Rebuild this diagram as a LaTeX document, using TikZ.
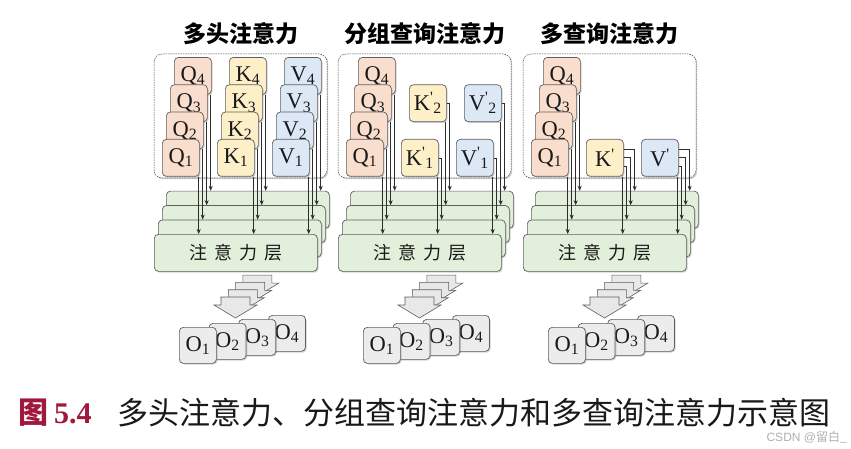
\documentclass[tikz,border=0pt]{standalone}
\usepackage{fontspec}
\setmainfont{Liberation Serif}
\newfontfamily\cjk{Noto Sans CJK SC}
\newfontfamily\wmfont{Liberation Sans}
\usetikzlibrary{arrows.meta,shadows}
\definecolor{qfill}{RGB}{250,222,205}
\definecolor{kfill}{RGB}{253,239,200}
\definecolor{vfill}{RGB}{220,232,245}
\definecolor{lfill}{RGB}{226,239,218}
\definecolor{ofill}{RGB}{236,236,236}
\definecolor{afill}{RGB}{232,232,232}
\definecolor{bordc}{RGB}{95,95,95}
\definecolor{linec}{RGB}{45,45,45}
\definecolor{textc}{RGB}{25,25,25}
\definecolor{capred}{RGB}{160,25,60}
\definecolor{wmgray}{RGB}{175,175,175}
\tikzset{
  headbox/.style={draw=bordc, line width=0.7pt, rounded corners=4pt,
    minimum width=37pt, minimum height=37pt, inner sep=0pt, anchor=north west,
    font=\fontsize{22.5}{22.5}\selectfont, text=textc,
    drop shadow={shadow xshift=1.2pt, shadow yshift=-1.2pt, opacity=0.35}},
  qbox/.style={headbox, fill=qfill},
  kbox/.style={headbox, fill=kfill},
  vbox/.style={headbox, fill=vfill},
  obox/.style={headbox, fill=ofill, minimum height=36pt},
  attnlayer/.style={headbox, fill=lfill, minimum width=163pt, minimum height=37pt,
    font=\cjk\fontsize{18}{18}\selectfont},
  panelframe/.style={draw=black!75, dash pattern=on 1.5pt off 1pt, line width=0.5pt,
    rounded corners=8pt, fill=white,
    drop shadow={shadow xshift=1.2pt, shadow yshift=-1.2pt, opacity=0.4}},
  connarrow/.style={draw=linec, line width=0.55pt, -{Stealth[length=5pt,width=4pt]}},
  blockarrow/.style={draw=bordc, fill=afill, line width=0.6pt, line join=miter},
  paneltitle/.style={font=\cjk\bfseries\fontsize{23}{23}\selectfont, text=black, inner sep=0pt},
}
\begin{document}
\begin{tikzpicture}[x=1pt,y=-1pt]
\fill[white] (0,0) rectangle (851,449);
\useasboundingbox (0,0) rectangle (851,449);

\foreach \p/\dx/\ttl in {1/0/多头注意力, 2/184/分组查询注意力, 3/369/多查询注意力} {
  \begin{scope}[xshift=\dx pt]
    \node[paneltitle] (t\p) at (240.5,34) {\ttl};
    \path[panelframe] (154,54) rectangle (327,178);
    \foreach \i in {4,3,2,1} {
      \node[qbox] (q\i x\p) at ({162+4*(\i-1)},{139-27.3*(\i-1)}) {Q\textsubscript{\i}};
    }
    \foreach \i in {4,3,2} {
      \node[attnlayer] (l\i x\p) at ({154+4*(\i-1)},{234-14.4*(\i-1)}) {};
    }
    \node[attnlayer] (l1x\p) at (154,234) {注\hspace{7pt}意\hspace{7pt}力\hspace{7pt}层};
    \foreach \i in {1,2,3,4} {
      \draw[connarrow] ([xshift=-1pt]q\i x\p.south east) -- ([xshift=-1pt]q\i x\p.south east |- l\i x\p.north);
    }
    \foreach \j in {3,2,1,0} {
      \draw[blockarrow] ({221+7.3*\j},{297-7.3*\j}) -- ++(29,0) -- ++(0,8) -- ++(7,0)
        -- ++(-21.5,13) -- ++(-21.5,-13) -- ++(7,0) -- cycle;
    }
    \foreach \i in {4,3,2,1} {
      \node[obox] (o\i x\p) at ({179+29.7*(\i-1)},{327-4*(\i-1)}) {O\textsubscript{\i}};
    }
  \end{scope}
}

% panel 1: K and V heads
\foreach \i in {4,3,2,1} {
  \node[kbox] (k\i x1) at ({217+4*(\i-1)},{139-27.3*(\i-1)}) {K\textsubscript{\i}};
  \node[vbox] (v\i x1) at ({272+4*(\i-1)},{139-27.3*(\i-1)}) {V\textsubscript{\i}};
}
\foreach \i in {1,2,3,4} {
  \draw[connarrow] ([xshift=-1pt]k\i x1.south east) -- ([xshift=-1pt]k\i x1.south east |- l\i x1.north);
  \draw[connarrow] ([xshift=-1pt]v\i x1.south east) -- ([xshift=-1pt]v\i x1.south east |- l\i x1.north);
}

% panel 2: grouped K and V heads
\node[kbox] (kg2) at (409,84.4) {K\textsuperscript{\textquotesingle}\textsubscript{2}};
\node[kbox] (kg1) at (401,139) {K\textsuperscript{\textquotesingle}\textsubscript{1}};
\node[vbox] (vg2) at (464,84.4) {V\textsuperscript{\textquotesingle}\textsubscript{2}};
\node[vbox] (vg1) at (456,139) {V\textsuperscript{\textquotesingle}\textsubscript{1}};
\foreach \n in {kg,vg} {
  \draw[connarrow] ([xshift=-1pt]\n1.south east) -- ([xshift=-1pt]\n1.south east |- l1x2.north);
  \draw[connarrow] (\n1.east) -| ([xshift=3pt]\n1.east |- l2x2.north);
  \draw[connarrow] ([xshift=-1pt]\n2.south east) -- ([xshift=-1pt]\n2.south east |- l3x2.north);
  \draw[connarrow] (\n2.east) -| ([xshift=3pt]\n2.east |- l4x2.north);
}

% panel 3: single K and V heads
\node[kbox] (km) at (586,139) {K\textsuperscript{\textquotesingle}};
\node[vbox] (vm) at (641,139) {V\textsuperscript{\textquotesingle}};
\foreach \n in {km,vm} {
  \draw[connarrow] ([xshift=-1pt]\n.south east) -- ([xshift=-1pt]\n.south east |- l1x3.north);
  \draw[connarrow] ([yshift=-27pt]\n.north east) -| ([xshift=3pt]\n.east |- l2x3.north);
  \draw[connarrow] ([yshift=-18.5pt]\n.north east) -| ([xshift=7pt]\n.east |- l3x3.north);
  \draw[connarrow] ([yshift=-10pt]\n.north east) -| ([xshift=11pt]\n.east |- l4x3.north);
}

% caption
\node[anchor=west, inner sep=0pt, text=capred] (capnum) at (18,413)
  {{\cjk\bfseries\fontsize{30}{30}\selectfont 图}\hspace{6pt}{\bfseries\fontsize{30}{30}\selectfont 5.4}};
\node[anchor=west, inner sep=0pt, text=textc, font=\cjk\fontsize{31}{31}\selectfont] (captext) at (117,413)
  {多头注意力、分组查询注意力和多查询注意力示意图};
\node[anchor=east, inner sep=0pt, text=wmgray, font=\cjk\fontsize{12}{12}\selectfont] (wm) at (847,437)
  {{\wmfont CSDN @}留白\_};
\end{tikzpicture}
\end{document}
